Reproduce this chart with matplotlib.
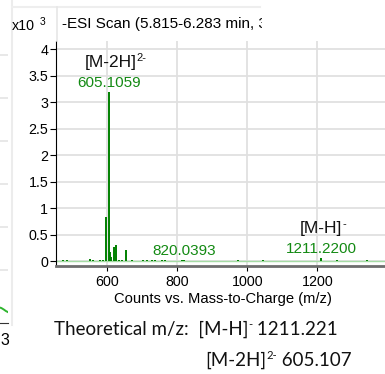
import numpy as np
import matplotlib.pyplot as plt
from matplotlib.transforms import Bbox, TransformedBbox, IdentityTransform

plt.rcParams['font.family'] = ['Liberation Sans', 'DejaVu Sans']

W, H = 385, 374

# -ESI spectrum, counts in units of 10^3
peak_mz = [476, 486, 552, 561, 581, 590, 599.1, 605.1059, 609.1, 612.8, 620.5,
           626.2, 634, 642, 654.7, 672, 703, 714, 728, 737, 757, 766, 814,
           820.0393, 974, 1045, 1211.22, 1256, 1341]
peak_counts = [0.02, 0.02, 0.05, 0.02, 0.02, 0.03, 0.84, 3.19, 0.18, 0.09, 0.27,
               0.31, 0.03, 0.03, 0.22, 0.02, 0.02, 0.02, 0.02, 0.02, 0.02, 0.02,
               0.03, 0.03, 0.02, 0.02, 0.065, 0.02, 0.02]

x_ticks = [600, 800, 1000, 1200]
y_ticks = [0, 0.5, 1, 1.5, 2, 2.5, 3, 3.5, 4]

# neighbouring chromatogram panel (only its right edge shows)
chrom_time = [2.85, 2.91, 2.98, 3.04, 3.1]
chrom_int = [0.13, 0.115, 0.08, 0.045, 0.02]

GREEN = '#008000'
LABEL_GREEN = '#138a13'


def fx(px):
    return px / W


def fy(py):
    return 1 - py / H


fig = plt.figure(figsize=(W / 100, H / 100), dpi=100)
renderer = fig.canvas.get_renderer()

# --- left (chromatogram) panel, mostly off the page
ax0 = fig.add_axes([fx(-100), fy(323), 108 / W, 283 / H])
ax0.set_xlim(0, 3.1)
ax0.set_ylim(-0.233, 6.35)
ax0.plot(chrom_time, chrom_int, color='#2fb52f', lw=1.4)
ax0.set_yticks([1, 2, 3, 4, 5, 6])
ax0.yaxis.grid(True, color='#e4e4e4', lw=1.2)
ax0.tick_params(axis='y', left=False, labelleft=False)
ax0.set_xticks([3])
ax0.set_xticklabels(['3'], fontsize=11.5)
ax0.tick_params(axis='x', length=0, pad=7)
for s in ['top', 'right', 'left']:
    ax0.spines[s].set_visible(False)
ax0.spines['bottom'].set_color('#333333')
ax0.spines['bottom'].set_linewidth(0.8)

# panel borders
fig.add_artist(plt.Line2D([fx(11.5), fx(11.5)], [fy(0), fy(325)], color='#ececec', lw=1.5))
fig.add_artist(plt.Line2D([fx(12), fx(260)], [fy(6.5), fy(6.5)], color='#eeeeee', lw=1.5))
fig.add_artist(plt.Line2D([fx(57), fx(57)], [fy(6.5), fy(41)], color='#e6e6e6', lw=1.2))

# --- spectrum panel
ax = fig.add_axes([fx(56), fy(266), 329 / W, 225 / H])
ax.set_xlim(455.3, 1392.6)
ax.set_ylim(-0.085, 4.16)
ax.set_axisbelow(True)
ax.grid(True, color='#e0e0e0', lw=1.3)
ax.axhline(0, color='#a6dca6', lw=1.0, zorder=1.5)
ax.vlines(peak_mz, 0, peak_counts, color=GREEN, lw=1.4, zorder=2)

ax.set_xticks(x_ticks)
ax.set_yticks(y_ticks)
ax.set_yticklabels([f'{v:g}' for v in y_ticks])
ax.tick_params(axis='both', labelsize=10.3, color='black', width=0.8)
ax.tick_params(axis='y', length=4.5, pad=1)
ax.tick_params(axis='x', length=3.5, pad=3)
ax.spines['top'].set_visible(False)
ax.spines['right'].set_visible(False)
ax.spines['left'].set_color('black')
ax.spines['left'].set_linewidth(0.8)
ax.spines['bottom'].set_color('#6e6e6e')
ax.spines['bottom'].set_linewidth(2)

fig.text(fx(223), fy(303), 'Counts vs. Mass-to-Charge (m/z)', ha='center',
         va='baseline', fontsize=10.6)

title = fig.text(fx(61.5), fy(28), '-ESI Scan (5.815-6.283 min, 3', ha='left',
                 va='baseline', fontsize=11)
title.set_clip_box(TransformedBbox(Bbox([[0, fy(40)], [fx(262), 1]]),
                                   fig.transFigure))
title.set_clip_on(True)
fig.text(fx(11.5), fy(30.5), 'x10', ha='left', va='baseline', fontsize=10.3)
fig.text(fx(40), fy(25), '3', ha='left', va='baseline', fontsize=7.5)


def peak_value(mz, h, text, dy=5):
    ax.annotate(text, (mz, h), xytext=(0, dy), textcoords='offset pixels',
                ha='center', va='baseline', color=LABEL_GREEN, fontsize=11)


def ion_label(mz, h, base, sup, dx, dy, rise=6):
    t = ax.annotate(base, (mz, h), xytext=(dx, dy), textcoords='offset pixels',
                    ha='center', va='baseline', color='#111111', fontsize=12.5)
    bb = t.get_window_extent(renderer)
    X, Y = ax.transData.transform((mz, h))
    fig.text(bb.x1 - 0.5, Y + dy + rise, sup, transform=IdentityTransform(),
             ha='left', va='baseline', color='#111111', fontsize=8)


peak_value(605.1059, 3.19, '605.1059')
ion_label(605.1059, 3.19, '[M-2H]', '2-', 2, 25.7)
peak_value(820.0393, 0.03, '820.0393')
peak_value(1211.22, 0.065, '1211.2200')
ion_label(1211.22, 0.065, '[M-H]', '-', 0, 25.3)


def chain(x, y, pieces, size=13.5):
    # lay text pieces left to right; pieces are (text, scale, rise px)
    for text, scale, rise in pieces:
        t = fig.text(x, y + rise, text, transform=IdentityTransform(), ha='left',
                     va='baseline', fontsize=size * scale, family=['Lato', 'DejaVu Sans'],
                     color='#111111')
        x = t.get_window_extent(renderer).x1


chain(53.5, H - 335, [('Theoretical m/z:  [M-H]', 1, 0), ('-', 0.6, 7),
                      (' 1211.221', 1, 0)])
chain(205, H - 366, [('[M-2H]', 1, 0), ('2-', 0.6, 7), (' 605.107', 1, 0)])

fig.savefig('out.png', dpi=100)
